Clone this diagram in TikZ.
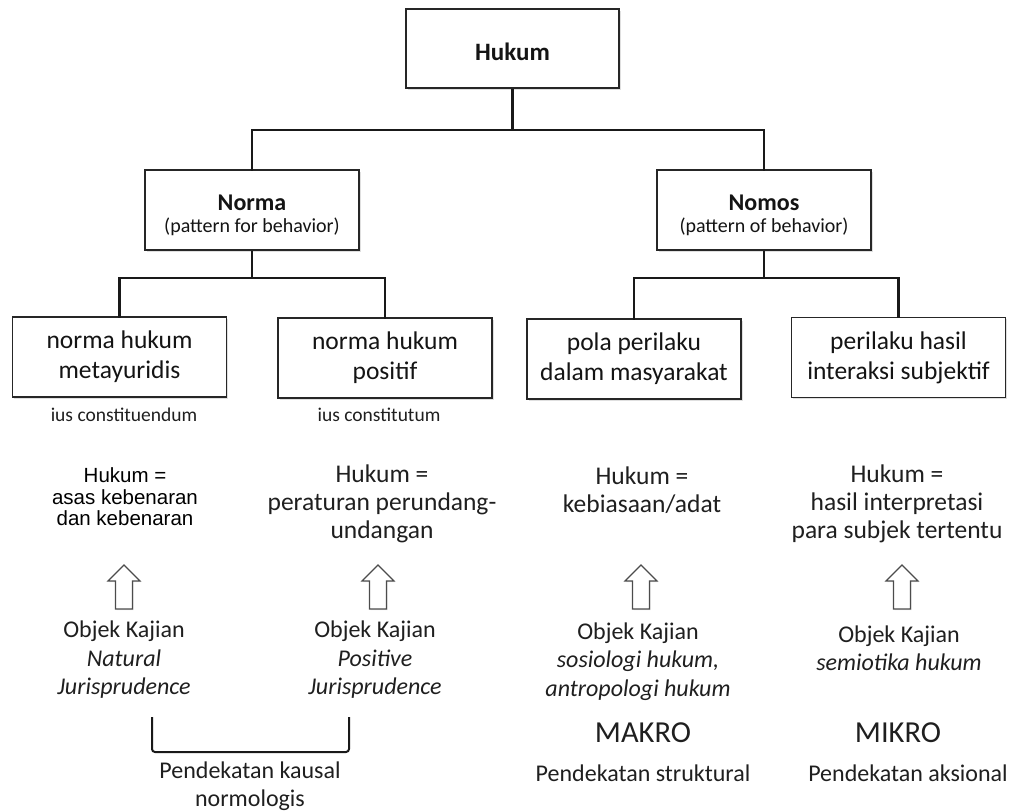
\documentclass[tikz,border=0pt]{standalone}
\usepackage{fontspec}
\setmainfont{Carlito}
\newfontfamily\arialfont{Liberation Sans}
\usetikzlibrary{shadows}

\begin{document}
\begin{tikzpicture}[x=1pt,y=-1pt,
  box/.style={draw=black!85, line width=1.3pt, fill=white,
    minimum width=214pt, minimum height=80pt, inner sep=0pt, align=center,
    text=black!92,
    drop shadow={shadow xshift=1.5pt, shadow yshift=-1.5pt, opacity=0.25}},
  leafbox/.style={box, font=\fontsize{25.5}{30}\selectfont},
  boxtext/.style={inner sep=0pt, align=center, text=black!92},
  link/.style={line width=2.6pt, black!90},
  note/.style={inner sep=0pt, align=center, text=black!88},
  small/.style={note, font=\fontsize{19.5}{23}\selectfont},
  defn/.style={note, font=\fontsize{25.5}{28}\selectfont},
  obj/.style={note, font=\fontsize{24}{28.5}\selectfont},
  approach/.style={note, font=\fontsize{24}{28}\selectfont},
  level/.style={note, font=\fontsize{30.5}{34}\selectfont},
  arrowline/.style={draw=black!70, line width=1.2pt, fill=white, line join=miter,
    drop shadow={shadow xshift=1pt, shadow yshift=-1pt, opacity=0.2}},
  bracket/.style={line width=2pt, black!90, rounded corners=3pt},
  uparrow/.pic={\path[arrowline] (-8.5,44) -- (-8.5,16) -- (-16,16) -- (0,0)
    -- (16,16) -- (8.5,16) -- (8.5,44) -- cycle;}
]
\useasboundingbox (0,0) rectangle (1013,812);

% tree of boxes
\node[box, minimum width=213pt, minimum height=79pt] (hukum) at (512.5,48.5) {};
\node[boxtext, font=\fontsize{25}{30}\selectfont\bfseries] (hukumT) at (512.5,52) {Hukum};
\node[box] (norma) at (252,210) {};
\node[boxtext, font=\fontsize{20}{22}\selectfont] (normaT) at (252,215)
  {{\fontsize{24}{24}\selectfont\bfseries Norma}\\(pattern for behavior)};
\node[box] (nomos) at (764,210) {};
\node[boxtext, font=\fontsize{20}{22}\selectfont] (nomosT) at (764,215)
  {{\fontsize{24}{24}\selectfont\bfseries Nomos}\\(pattern of behavior)};

\node[leafbox] (meta) at (119.5,357) {norma hukum\\metayuridis};
\node[leafbox] (posi) at (385,358) {norma hukum\\positif};
\node[leafbox] (pola) at (634,359) {pola perilaku\\dalam masyarakat};
\node[leafbox] (inter) at (898.5,357.5) {perilaku hasil\\interaksi subjektif};

% connectors
\coordinate (barA) at (0,130);
\coordinate (barB) at (0,278);
\draw[link] (hukum.south) -- (hukum.south |- barA);
\draw[link, line cap=rect] (norma.north) -- (norma.north |- barA) -- (nomos.north |- barA) -- (nomos.north);
\draw[link] (norma.south) -- (norma.south |- barB);
\draw[link, line cap=rect] (meta.north) -- (meta.north |- barB) -- (posi.north |- barB) -- (posi.north);
\draw[link] (nomos.south) -- (nomos.south |- barB);
\draw[link, line cap=rect] (pola.north) -- (pola.north |- barB) -- (inter.north |- barB) -- (inter.north);

% Latin labels under the left boxes
\node[small] (ius1) at (124,415) {ius constituendum};
\node[small] (ius2) at (379,415) {ius constitutum};

% what law is taken to be
\node[note, font=\arialfont\fontsize{20.5}{21.5}\selectfont, text=black] (def1) at (125,497)
  {Hukum =\\asas kebenaran\\dan kebenaran};
\node[defn] (def2) at (382,504) {Hukum =\\peraturan perundang-\\undangan};
\node[defn] (def3) at (642,490) {Hukum =\\kebiasaan/adat};
\node[defn] (def4) at (897,504) {Hukum =\\hasil interpretasi\\para subjek tertentu};

% hollow up arrows
\pic at (124,565) {uparrow};
\pic at (378,565) {uparrow};
\pic at (641,565) {uparrow};
\pic at (902,565) {uparrow};

% objects of study
\node[obj] (obj1) at (124,660) {Objek Kajian\\\textit{Natural}\\\textit{Jurisprudence}};
\node[obj] (obj2) at (375,660) {Objek Kajian\\\textit{Positive}\\\textit{Jurisprudence}};
\node[obj] (obj3) at (638,661.5) {Objek Kajian\\\textit{sosiologi hukum,}\\\textit{antropologi hukum}};
\node[obj] (obj4) at (899,648) {Objek Kajian\\\textit{semiotika hukum}};

% bracket joining the two normative columns
\coordinate (brL) at (152,717);
\coordinate (brR) at (349,717);
\draw[bracket] (brL) -- ++(0,35) -| (brR);

\node[level] (makro) at (643,733) {MAKRO};
\node[level] (mikro) at (898,733) {MIKRO};

\node[approach] (kausal) at (250,786) {Pendekatan kausal\\normologis};
\node[approach] (struk) at (643,773) {Pendekatan struktural};
\node[approach] (aksi) at (908,773) {Pendekatan aksional};
\end{tikzpicture}
\end{document}
